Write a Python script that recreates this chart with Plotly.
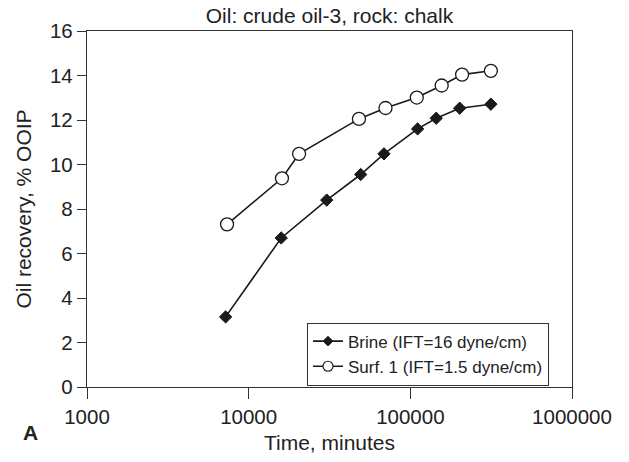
import plotly.graph_objects as go

brine_time = [7200, 15900, 30400, 49300, 68700, 110900, 144600, 202000, 315000]
brine_rec = [3.15, 6.7, 8.4, 9.55, 10.48, 11.6, 12.08, 12.53, 12.71]
surf_time = [7350, 16070, 20500, 48100, 70200, 109600, 156300, 209000, 315000]
surf_rec = [7.31, 9.38, 10.48, 12.05, 12.54, 13.01, 13.55, 14.04, 14.21]

series_names = ["Brine (IFT=16 dyne/cm)", "Surf. 1 (IFT=1.5 dyne/cm)"]

x_ticks = [1000, 10000, 100000, 1000000]
x_ticklabels = ["1000", "10000", "100000", "1000000"]
y_ticks = [0, 2, 4, 6, 8, 10, 12, 14, 16]

FONT = "Liberation Sans, Arial, sans-serif"
INK = "#222"
LINE = "#1a1a1a"

fig = go.Figure()
# data traces
fig.add_trace(go.Scatter(
    x=brine_time, y=brine_rec, mode="lines+markers",
    name=series_names[0], showlegend=False,
    line=dict(color=LINE, width=1.6),
    marker=dict(symbol="diamond", size=9.5, color=LINE,
                line=dict(color=LINE, width=1)),
))
fig.add_trace(go.Scatter(
    x=surf_time, y=surf_rec, mode="lines+markers",
    name=series_names[1], showlegend=False,
    line=dict(color=LINE, width=1.6),
    marker=dict(symbol="circle", size=13, color="white",
                line=dict(color=LINE, width=1.3)),
))
# legend entries (smaller symbols, as in the original key)
fig.add_trace(go.Scatter(
    x=[None], y=[None], mode="lines+markers", name=series_names[0],
    line=dict(color=LINE, width=1.6),
    marker=dict(symbol="diamond", size=7.5, color=LINE,
                line=dict(color=LINE, width=1)),
))
fig.add_trace(go.Scatter(
    x=[None], y=[None], mode="lines+markers", name=series_names[1],
    line=dict(color=LINE, width=1.6),
    marker=dict(symbol="circle", size=10, color="white",
                line=dict(color=LINE, width=1.2)),
))

fig.update_layout(
    width=629, height=462,
    margin=dict(l=87, r=57, t=31, b=66),
    paper_bgcolor="white", plot_bgcolor="white",
    font=dict(family=FONT, color=INK, size=20.5),
    title=dict(text="Oil: crude oil-3, rock: chalk", x=0.5, xref="paper",
               xanchor="center", y=1 - 16 / 462, yref="container",
               yanchor="middle", font=dict(size=21, color=INK)),
    showlegend=True,
    legend=dict(x=0.4536, y=0.004, xanchor="left", yanchor="bottom",
                bgcolor="white", bordercolor="#333", borderwidth=1,
                font=dict(size=17, color=INK),
                tracegroupgap=0),
    xaxis=dict(type="log", range=[3, 6], tickvals=x_ticks,
               ticktext=x_ticklabels, ticks="outside", ticklen=11,
               tickwidth=1.2, tickcolor="#333",
               showline=True, linecolor="#333", linewidth=1.3, mirror=True,
               showgrid=False, zeroline=False,
               title=dict(text="Time, minutes", standoff=8,
                          font=dict(size=21))),
    yaxis=dict(range=[0, 16], tickvals=y_ticks, ticks="outside", ticklen=9,
               tickwidth=1.2, tickcolor="#333",
               showline=True, linecolor="#333", linewidth=1.3, mirror=True,
               showgrid=False, zeroline=False,
               title=dict(text="Oil recovery, % OOIP", standoff=12,
                          font=dict(size=21))),
)

fig.add_annotation(text="<b>A</b>", xref="paper", yref="paper",
                   x=-0.1175, y=-0.127, xanchor="center", yanchor="middle",
                   showarrow=False, font=dict(size=21, color=INK))

fig.write_html("out.html")
